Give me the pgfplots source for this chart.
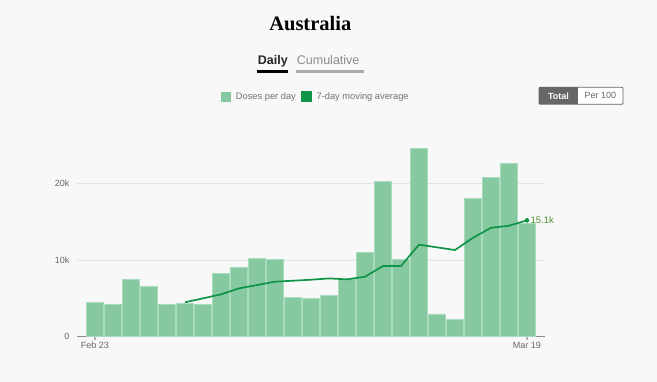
\documentclass[border=0pt]{standalone}
\usepackage{fontspec}
\setmainfont{Liberation Sans}
\newfontfamily\titlefont{Liberation Serif}
\usepackage{pgfplots}
\pgfplotsset{compat=1.18}
\definecolor{bg}{HTML}{F8F8F8}
\definecolor{barfill}{HTML}{86C9A0}
\definecolor{barborder}{HTML}{A9DBBD}
\definecolor{lineg}{HTML}{0F9447}
\definecolor{lblg}{HTML}{4F8F2E}
\definecolor{tickc}{HTML}{666666}
\definecolor{gridc}{HTML}{E4E4E4}
\begin{document}
\begin{tikzpicture}[x=1pt,y=1pt]
\fill[bg] (0,0) rectangle (657,382);
% title and tabs
\node[anchor=base, inner sep=0] at (310.3,351.3) {\titlefont\fontsize{20.5}{24}\selectfont\bfseries Australia};
\node[anchor=base west, inner sep=0] at (257.7,317.7) {\fontsize{12.5}{15}\selectfont\bfseries\color{black!85} Daily};
\node[anchor=base west, inner sep=0] at (296.7,317.7) {\fontsize{12.5}{15}\selectfont\color{black!45} Cumulative};
\fill[black] (257,309.3) rectangle (288,311.5);
\fill[black!33] (296,309.3) rectangle (364,311.5);
% toggle
\fill[white] (578,277.7) rectangle (623,294.7);
\draw[tickc, line width=0.8pt, rounded corners=1pt] (539,277.7) rectangle (623,294.7);
\fill[tickc] (539,277.7) rectangle (578,294.7);
\node[inner sep=0, anchor=center] at (558.5,286.2) {\fontsize{9}{10}\selectfont\bfseries\color{white} Total};
\node[inner sep=0, anchor=center] at (600.5,286.2) {\fontsize{9}{10}\selectfont\color{black!60} Per 100};
\begin{axis}[
  at={(77pt,45.3pt)}, anchor=south west,
  scale only axis, width=468pt, height=196.7pt,
  xmin=-1, xmax=25, ymin=0, ymax=25650,
  axis x line=bottom, axis y line=left,
  y axis line style={draw=none},
  x axis line style={draw=black!45, line width=0.9pt, -},
  scaled y ticks=false,
  ytick={0,10000,20000}, yticklabels={0,10k,20k},
  ymajorgrids, grid style={gridc, line width=0.8pt},
  major y tick style={draw=none},
  xtick={0,24}, xticklabels={Feb 23,Mar 19},
  major x tick style={draw=black!30, line width=1.5pt},
  tick align=outside, major tick length=3pt,
  ticklabel style={font=\fontsize{9}{10}\selectfont, text=tickc},
  yticklabel style={xshift=-1pt},
  xticklabel style={yshift=1pt},
  clip=false,
  legend style={at={(0.5085,1.22)}, anchor=center, draw=none, fill=none,
    legend columns=2, font=\fontsize{9.3}{11}\selectfont, text=black!55,
    nodes={inner sep=0pt},
    /tikz/every odd column/.append style={column sep=5pt},
    /tikz/every even column/.append style={column sep=5pt},
    inner sep=0pt, row sep=0pt},
]
\addplot[ybar, bar shift=0pt, bar width=16.5pt, fill=barfill, draw=barborder, line width=0.6pt,
  legend image code/.code={\fill[barfill] (0pt,-4.5pt) rectangle (9pt,4.5pt);}]
coordinates {
(0,4490) (1,4220) (2,7520) (3,6570) (4,4220) (5,4350) (6,4200) (7,8260)
(8,9000) (9,10200) (10,10040) (11,5130) (12,4960) (13,5430) (14,7520)
(15,10950) (16,20300) (17,10130) (18,24560) (19,2960) (20,2270) (21,18040)
(22,20800) (23,22560) (24,14730)
};
\addlegendentry{Doses per day}
\addplot[lineg, line width=1.7pt, sharp plot,
  legend image code/.code={\fill[lineg] (0pt,-4.5pt) rectangle (9pt,4.5pt);}]
coordinates {
(5,4490) (6,5000) (7,5520) (8,6300) (9,6740) (10,7170) (11,7300) (12,7430)
(13,7600) (14,7480) (15,7820) (16,9220) (17,9220) (18,12000) (19,11650)
(20,11300) (21,12900) (22,14200) (23,14470) (24,15170)
};
\addlegendentry{7-day moving average}
\addplot[only marks, mark=*, mark size=2pt, lineg, forget plot]
coordinates {(24,15170)} node[anchor=west, xshift=3.5pt, inner sep=0, font=\fontsize{9.5}{10}\selectfont, text=lblg] {15.1k};
\end{axis}
\end{tikzpicture}
\end{document}
